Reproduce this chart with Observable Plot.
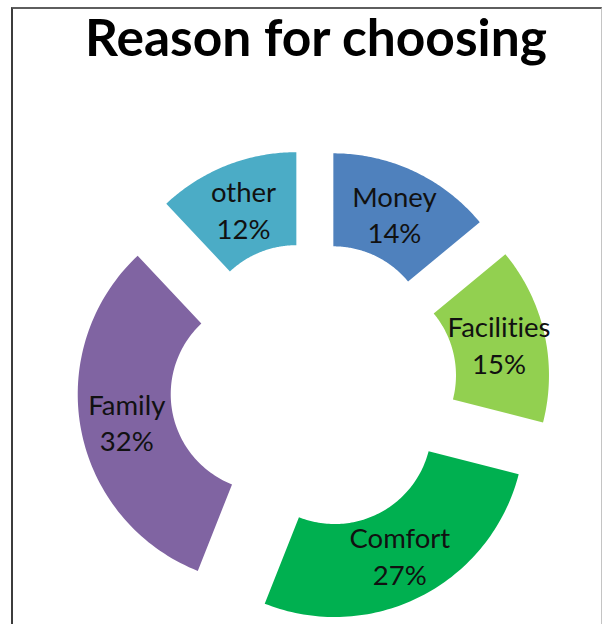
<!DOCTYPE html>
<html>
<head>
<meta charset="utf-8">
<script src="https://cdn.jsdelivr.net/npm/d3@7"></script>
<script src="https://cdn.jsdelivr.net/npm/@observablehq/plot@0.6"></script>
<style>
  html, body { margin: 0; padding: 0; background: #fff; overflow: hidden; }
  #wrap { position: relative; width: 603px; height: 624px; }
  #box { position: absolute; left: 11px; top: 7px; width: 588px; height: 700px;
         border-left: 2px solid #3c3c3c; border-top: 2px solid #5e5e5e; border-right: 1px solid #c4c4c4; }
  #chart { position: absolute; left: 0; top: 0; }
  svg text { font-variant-ligatures: none; font-feature-settings: "liga" 0, "clig" 0; }
</style>
</head>
<body>
<div id="wrap"><div id="box"></div><div id="chart"></div></div>
<script>
const title = "Reason for choosing";
const categories = ["Money", "Facilities", "Comfort", "Family", "other"];
const values = [14, 15, 27, 32, 12];
const colors = ["#4F81BD", "#92D050", "#00B050", "#8064A2", "#4BACC6"];

// layout (pixel space)
const W = 603, H = 624;
const cx = 313, cy = 385, R = 190, r = 97, explode = 46.6;

const arcs = d3.pie().sort(null).startAngle(0).endAngle(2 * Math.PI)(values);
const total = d3.sum(values);

const pts = [];
const labels = [];
arcs.forEach((a, i) => {
  const m = (a.startAngle + a.endAngle) / 2;
  const ox = cx + explode * Math.sin(m), oy = cy - explode * Math.cos(m);
  const n = 80;
  for (let k = 0; k <= n; k++) {
    const t = a.startAngle + (a.endAngle - a.startAngle) * k / n;
    pts.push({name: categories[i], x: ox + R * Math.sin(t), y: oy - R * Math.cos(t)});
  }
  for (let k = n; k >= 0; k--) {
    const t = a.startAngle + (a.endAngle - a.startAngle) * k / n;
    pts.push({name: categories[i], x: ox + r * Math.sin(t), y: oy - r * Math.cos(t)});
  }
  const lr = (R + r) / 2;
  labels.push({
    x: ox + lr * Math.sin(m), y: oy - lr * Math.cos(m),
    text: categories[i] + "\n" + Math.round(values[i] / total * 100) + "%"
  });
});

const chart = Plot.plot({
  width: W, height: H,
  margin: 0,
  x: {domain: [0, W], range: [0, W], axis: null},
  y: {domain: [0, H], range: [0, H], axis: null},
  color: {domain: categories, range: colors},
  style: {background: "transparent"},
  marks: [
    Plot.line(pts, {x: "x", y: "y", z: "name", fill: "name", stroke: "none", curve: "linear-closed"}),
    Plot.text(labels, {x: "x", y: "y", text: "text", fontSize: 27.5, lineHeight: 1.33,
      fontFamily: "Lato", fill: "#111"}),
    Plot.text([title], {frameAnchor: "top", dx: 14, dy: 19, lineAnchor: "top", fontSize: 51.5,
      fontWeight: "bold", fontFamily: "Lato", fill: "#000"})
  ]
});
document.getElementById("chart").appendChild(chart);
</script>
</body>
</html>
